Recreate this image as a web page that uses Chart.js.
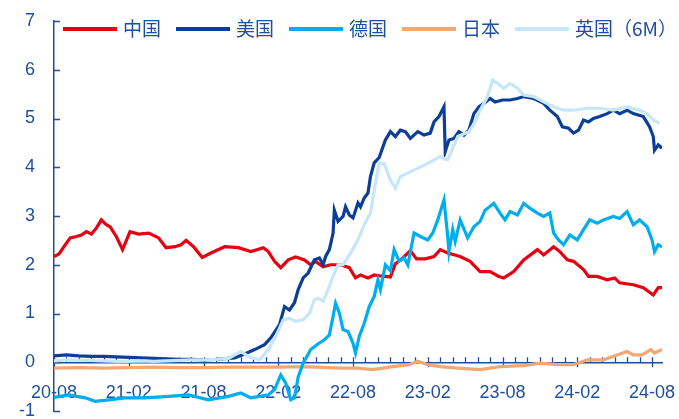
<!DOCTYPE html>
<html>
<head>
<meta charset="utf-8">
<script src="https://cdn.jsdelivr.net/npm/chart.js@4.4.1/dist/chart.umd.min.js"></script>
<style>
  html, body { margin: 0; padding: 0; background: #fff; }
  #wrap { position: relative; width: 679px; height: 419px; }
</style>
</head>
<body>
<div id="wrap"><canvas id="chart"></canvas></div>
<script>
// months counted from 2020-08
const cnMonth = [0,0.4,0.8,1.3,1.8,2.2,2.6,3.0,3.4,3.8,4.2,4.5,5.0,5.5,6.1,6.8,7.6,8.4,9.0,9.7,10.2,10.6,11.2,11.9,12.6,13.7,14.8,15.8,16.8,17.2,17.7,18.2,18.8,19.4,20.1,20.6,21.0,21.6,22.2,23.0,23.7,24.2,24.6,25.2,25.7,26.2,27.0,27.4,28.0,28.6,29.1,29.8,30.5,31.0,31.6,32.6,33.4,34.2,35.0,35.7,36.1,36.9,37.7,38.8,39.3,40.1,40.6,41.2,41.7,42.5,42.9,43.6,44.4,45.0,45.4,46.5,47.3,48.1,48.5,48.8];
const cnValue = [2.17,2.22,2.37,2.55,2.58,2.61,2.68,2.63,2.75,2.92,2.82,2.78,2.58,2.31,2.68,2.63,2.65,2.55,2.35,2.37,2.41,2.5,2.37,2.15,2.24,2.37,2.35,2.27,2.35,2.27,2.07,1.94,2.1,2.16,2.1,2.0,2.07,1.96,2.0,2.0,1.94,1.73,1.79,1.73,1.79,1.77,1.75,2.02,2.14,2.29,2.12,2.12,2.17,2.31,2.24,2.17,2.07,1.86,1.86,1.76,1.73,1.86,2.1,2.31,2.2,2.37,2.27,2.1,2.07,1.9,1.76,1.76,1.69,1.73,1.63,1.59,1.53,1.38,1.53,1.53];

const usMonth = [0,1,2,3,4,5,6,7,8,9,10,11,12,13,14.5,15.3,16.1,16.9,17.4,18.1,18.5,18.9,19.3,19.6,20.0,20.4,20.9,21.3,21.6,21.8,22.1,22.4,22.5,22.8,23.2,23.4,23.7,24.0,24.4,24.6,24.9,25.2,25.4,25.7,26.1,26.6,27.0,27.4,27.8,28.2,28.6,29.2,29.7,30.2,30.5,30.9,31.3,31.4,31.7,32.1,32.5,32.9,33.3,33.7,34.1,34.5,35.0,35.4,36.0,36.6,37.2,37.7,38.5,39.3,39.8,40.4,40.8,41.3,41.7,42.1,42.5,42.9,43.3,43.8,44.4,44.9,45.4,46.0,46.5,47.3,47.8,48.1,48.2,48.5,48.8];
const usValue = [0.13,0.15,0.13,0.12,0.12,0.11,0.1,0.09,0.08,0.07,0.06,0.06,0.05,0.06,0.09,0.17,0.26,0.36,0.5,0.77,1.14,1.07,1.22,1.49,1.73,1.83,2.1,2.14,2.0,2.17,2.31,2.65,3.12,2.89,2.99,3.19,3.02,2.96,3.27,3.19,3.37,3.47,3.81,4.09,4.2,4.56,4.73,4.63,4.76,4.73,4.59,4.73,4.66,4.7,4.93,5.04,5.24,4.32,4.56,4.59,4.73,4.66,4.76,5.1,5.24,5.31,5.41,5.34,5.38,5.38,5.41,5.45,5.41,5.31,5.17,5.04,4.83,4.8,4.7,4.76,4.97,4.93,5.0,5.04,5.1,5.17,5.1,5.17,5.1,5.04,4.83,4.63,4.35,4.46,4.39];

const deMonth = [0,1.2,2.5,3.3,4.4,5.7,7.3,9.2,10.8,12.4,14.0,15.0,15.8,17.2,17.7,18.2,18.6,19.0,19.3,19.6,20.0,20.3,20.6,21.1,21.7,22.1,22.4,22.6,22.9,23.2,23.6,24.0,24.2,24.5,24.9,25.3,25.7,26.0,26.2,26.6,27.0,27.3,27.7,28.1,28.4,28.9,29.4,30.0,30.4,30.8,31.3,31.6,31.7,32.0,32.2,32.6,33.2,33.7,34.2,34.6,35.3,35.8,36.2,36.6,37.2,37.7,38.2,38.8,39.3,39.8,40.1,40.5,40.9,41.4,42.0,42.5,43.0,43.6,44.1,44.9,45.4,46.0,46.5,47.0,47.6,48.0,48.2,48.5,48.8];
const deValue = [-0.72,-0.67,-0.73,-0.8,-0.77,-0.73,-0.73,-0.7,-0.67,-0.77,-0.7,-0.63,-0.73,-0.67,-0.56,-0.26,-0.43,-0.77,-0.73,-0.3,-0.02,0.12,0.26,0.36,0.46,0.56,0.94,1.21,1.01,0.67,0.63,0.39,0.19,0.53,0.8,1.14,1.35,1.69,1.49,2.0,1.88,2.31,2.07,2.14,2.0,2.65,2.58,2.51,2.65,2.92,3.33,2.58,2.27,2.72,2.48,2.92,2.55,2.78,2.89,3.12,3.26,3.06,2.92,3.09,3.02,3.26,3.16,3.06,2.99,3.06,2.65,2.51,2.41,2.61,2.51,2.72,2.92,2.85,2.92,2.99,2.95,3.09,2.82,2.92,2.78,2.51,2.27,2.41,2.37];

const jpMonth = [0,2,4,6,8,10,12,14,16,18,20,22,23.0,24.4,25.6,27.2,28.5,29.2,30.0,31.0,32.4,34.2,35.8,37.7,39.0,40.4,41.7,42.8,44.1,45.2,46.0,46.5,47.2,47.9,48.2,48.8];
const jpValue = [-0.12,-0.11,-0.12,-0.11,-0.1,-0.11,-0.11,-0.1,-0.1,-0.1,-0.09,-0.11,-0.12,-0.12,-0.15,-0.09,-0.05,0.02,-0.05,-0.09,-0.12,-0.15,-0.09,-0.07,-0.02,-0.05,-0.05,0.05,0.05,0.15,0.22,0.15,0.15,0.26,0.19,0.26];

const ukMonth = [0,1,2,3,4,5,6,7,8,9,10,11,12,13,14.0,15.0,15.8,16.5,17.2,17.8,18.4,18.9,19.4,20.0,20.5,20.9,21.2,21.6,22.0,22.4,22.8,23.2,23.8,24.4,24.9,25.4,25.8,26.1,26.5,27.0,27.4,27.8,28.9,30.0,31.0,31.6,32.4,33.3,33.8,34.2,34.8,35.2,35.6,36.1,36.6,37.2,37.7,38.5,39.3,40.1,40.9,41.7,42.8,43.8,44.9,46.0,47.0,47.6,48.1,48.6];
const ukValue = [0.03,0.05,0.04,0.04,0.03,0.02,0.02,0.03,0.02,0.03,0.04,0.05,0.05,0.06,0.08,0.22,0.09,0.05,0.26,0.53,0.87,0.9,0.84,0.87,1.0,1.28,1.31,1.25,1.49,1.76,2.0,2.0,2.24,2.51,2.82,3.06,3.67,4.08,4.08,3.74,3.57,3.81,3.94,4.08,4.22,4.15,4.63,4.73,4.93,5.17,5.45,5.79,5.72,5.62,5.72,5.62,5.48,5.45,5.34,5.24,5.17,5.17,5.21,5.21,5.17,5.24,5.17,5.1,4.97,4.9];

const xTickMonths = [0, 6, 12, 18, 24, 30, 36, 42, 48];
const xTickLabels = ['20-08', '21-02', '21-08', '22-02', '22-08', '23-02', '23-08', '24-02', '24-08'];

const axisColor = '#1F4E9C';
const labelFont = { family: '"Liberation Sans", Arial, sans-serif', size: 18 };

function toPoints(months, values) {
    return months.map((m, i) => ({ x: m, y: values[i] }));
}

function series(label, months, values, color, order) {
    return {
        label: label,
        data: toPoints(months, values),
        borderColor: color,
        backgroundColor: color,
        borderWidth: 3.2,
        pointRadius: 0,
        tension: 0,
        order: order
    };
}

// scales should not eat layout room: the plot box is set by layout.padding
function noRoom(scale) {
    scale.paddingLeft = 0;
    scale.paddingRight = 0;
    scale.paddingTop = 0;
    scale.paddingBottom = 0;
}

// tick marks: y ticks point inward, x minor ticks monthly, majors cross the axis
const axisTicks = {
    id: 'axisTicks',
    beforeDatasetsDraw(chart) {
        const { ctx, scales: { x, y } } = chart;
        const y0 = y.getPixelForValue(0);
        ctx.save();
        ctx.strokeStyle = axisColor;
        ctx.lineWidth = 1.3;
        ctx.beginPath();
        for (let m = 0; m <= 48; m++) {
            const px = Math.round(x.getPixelForValue(m)) + 0.5;
            ctx.moveTo(px, y0 - 5);
            ctx.lineTo(px, m % 6 === 0 ? y0 + 5 : y0);
        }
        for (let v = -1; v <= 7; v++) {
            const py = Math.round(y.getPixelForValue(v)) + 0.5;
            ctx.moveTo(x.left, py);
            ctx.lineTo(x.left + 6, py);
        }
        ctx.stroke();
        ctx.restore();
    }
};

// legend drawn inside the plot, along the top edge
const lineLegend = {
    id: 'lineLegend',
    afterDraw(chart) {
        const ctx = chart.ctx;
        let lx = 63;
        const ly = 29;
        ctx.save();
        ctx.font = '19px "Noto Sans CJK SC", sans-serif';
        ctx.textBaseline = 'middle';
        chart.data.datasets.forEach(ds => {
            ctx.fillStyle = ds.borderColor;
            ctx.fillRect(lx, ly - 2, 54, 4);
            ctx.fillStyle = axisColor;
            ctx.fillText(ds.label, lx + 60, ly);
            lx += 60 + ctx.measureText(ds.label).width + 15;
        });
        ctx.restore();
    }
};

new Chart(document.getElementById('chart'), {
    type: 'line',
    data: {
        datasets: [
            series('中国', cnMonth, cnValue, '#E60012', 3),
            series('美国', usMonth, usValue, '#0B3F97', 1),
            series('德国', deMonth, deValue, '#00AEEF', 2),
            series('日本', jpMonth, jpValue, '#F3A873', 4),
            series('英国（6M）', ukMonth, ukValue, '#C6E6FA', 0)
        ]
    },
    options: {
        responsive: true,
        maintainAspectRatio: false,
        animation: false,
        layout: { padding: { left: 0, right: 17, top: 21, bottom: 8 } },
        plugins: {
            legend: { display: false },
            tooltip: { enabled: false }
        },
        scales: {
            x: {
                type: 'linear',
                position: { y: 0 },
                min: 0,
                max: 48.8,
                afterBuildTicks: scale => {
                    scale.ticks = xTickMonths.map(v => ({ value: v }));
                },
                afterFit: scale => {
                    noRoom(scale);
                    scale.height = 0;
                },
                ticks: {
                    autoSkip: false,
                    maxRotation: 0,
                    padding: 20,
                    color: axisColor,
                    font: labelFont,
                    callback: (value, index) => xTickLabels[index]
                },
                grid: { drawOnChartArea: false, drawTicks: false },
                border: { color: axisColor, width: 1.5 }
            },
            y: {
                min: -1,
                max: 7,
                afterFit: noRoom,
                ticks: { stepSize: 1, padding: 19, color: axisColor, font: labelFont },
                grid: { drawOnChartArea: false, drawTicks: false },
                border: { color: axisColor, width: 1.5 }
            }
        }
    },
    plugins: [axisTicks, lineLegend]
});
</script>
</body>
</html>
